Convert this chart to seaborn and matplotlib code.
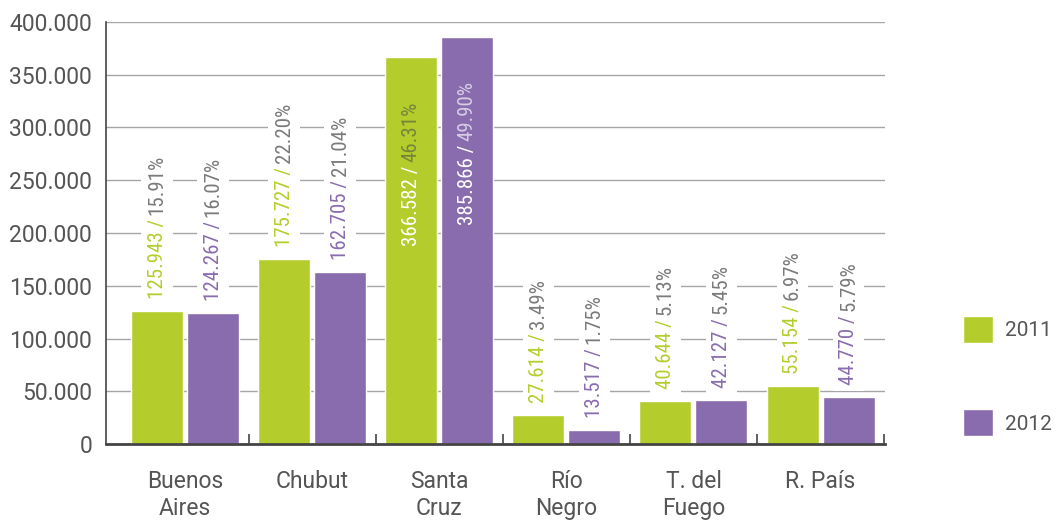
import numpy as np
import pandas as pd
import seaborn as sns
import matplotlib
matplotlib.use("Agg")
import matplotlib.pyplot as plt
from matplotlib.patches import Patch
from matplotlib.transforms import offset_copy
from matplotlib.ticker import FuncFormatter
from matplotlib import font_manager as fm

# ---------------- data ----------------
categories = ["Buenos\nAires", "Chubut", "Santa\nCruz", "Río\nNegro", "T. del\nFuego", "R. País"]
years = ["2011", "2012"]
values_2011 = [125943, 175727, 366582, 27614, 40644, 55154]
values_2012 = [124267, 162705, 385866, 13517, 42127, 44770]
pct_2011 = ["15.91%", "22.20%", "46.31%", "3.49%", "5.13%", "6.97%"]
pct_2012 = ["16.07%", "21.04%", "49.90%", "1.75%", "5.45%", "5.79%"]
y_ticks = [0, 50000, 100000, 150000, 200000, 250000, 300000, 350000, 400000]

GREEN = "#b5cd2c"
PURPLE = "#896cae"
TXT = "#555555"

sns.set_theme(style="white")
plt.rcParams["font.family"] = ["Roboto", "DejaVu Sans"]

# look for a condensed / narrow face for the bar labels
cond_files = []
for f in fm.fontManager.ttflist:
    fn = f.fname.lower()
    if ("condensed" in fn or "narrow" in fn or str(f.stretch) in ("condensed", "semi-condensed", "extra-condensed")) \
            and "bold" not in fn and "italic" not in fn and "oblique" not in fn and "light" not in fn:
        cond_files.append(f.fname)
pref = None
for key in ["robotocondensed-regular", "dejavusanscondensed.ttf", "narrow", "condensed"]:
    for fn in cond_files:
        if key in fn.lower().replace(" ", ""):
            pref = fn
            break
    if pref:
        break


def fcond(size):
    if pref:
        return fm.FontProperties(fname=pref, size=size)
    return fm.FontProperties(family="DejaVu Sans", size=size * 0.85)


def fplain(size):
    return fm.FontProperties(family=["Roboto", "DejaVu Sans"], weight="normal", size=size)


TICK_SIZE = 16.5
LAB_SIZE = 15

df = pd.DataFrame({
    "Provincia": categories * 2,
    "Año": [years[0]] * len(categories) + [years[1]] * len(categories),
    "Valor": values_2011 + values_2012,
})

W, H = 1056, 521
fig = plt.figure(figsize=(W / 100, H / 100), dpi=100)
ax = fig.add_axes([106 / W, 77 / H, 779 / W, 422 / H])

sns.barplot(data=df, x="Provincia", y="Valor", hue="Año", palette=[GREEN, PURPLE],
            width=0.881, gap=0.0714, dodge=True, saturation=1, legend=False, ax=ax,
            errorbar=None)

ax.set_xlim(-0.622, 5.507)
ax.set_ylim(0, 400000)
ax.set_yticks(y_ticks)
ax.yaxis.set_major_formatter(FuncFormatter(lambda v, p: f"{int(v):,}".replace(",", ".")))
ax.set_xlabel("")
ax.set_ylabel("")

ax.yaxis.grid(True, color="#a6a6a6", linewidth=1)
ax.set_axisbelow(True)
sns.despine(ax=ax)
ax.spines["left"].set_color("#444444")
ax.spines["left"].set_linewidth(1.2)
ax.spines["bottom"].set_color("#444444")
ax.spines["bottom"].set_linewidth(2)

ax.tick_params(axis="y", length=0, pad=10, labelcolor=TXT)
ax.tick_params(axis="x", which="major", length=0, pad=19, labelcolor=TXT)
ax.set_xticks(np.arange(0.5, len(categories), 1), minor=True)
ax.tick_params(axis="x", which="minor", bottom=True, direction="in", length=7, width=1.2, color="#444444")
for lab in ax.get_yticklabels():
    lab.set_fontproperties(fplain(TICK_SIZE))
for lab in ax.get_xticklabels():
    lab.set_fontproperties(fplain(TICK_SIZE))
    lab.set_linespacing(1.2)

fig.canvas.draw()
renderer = fig.canvas.get_renderer()

bb = dict(boxstyle="square,pad=0.3", fc="white", ec="none")
series = [(values_2011, pct_2011, GREEN, "#76843a"), (values_2012, pct_2012, PURPLE, "#d6cde6")]
for cont, (vals, pcts, col, pct_in) in zip(ax.containers, series):
    for bar, v, pct in zip(cont, vals, pcts):
        x = bar.get_x() + bar.get_width() / 2
        top = bar.get_height()
        vs = f"{v:,}".replace(",", ".") + " /"
        kw = dict(rotation=90, rotation_mode="anchor", va="center", zorder=4,
                  fontproperties=fcond(LAB_SIZE))
        if v > 300000:
            t2 = ax.text(x, top, pct, ha="right", color=pct_in,
                         transform=offset_copy(ax.transData, fig, x=0, y=-44, units="dots"), **kw)
            L = t2.get_window_extent(renderer).height
            ax.text(x, top, vs, ha="right", color="white",
                    transform=offset_copy(ax.transData, fig, x=0, y=-44 - L - 4, units="dots"), **kw)
        else:
            t1 = ax.text(x, top, vs, ha="left", color=col, bbox=bb,
                         transform=offset_copy(ax.transData, fig, x=0, y=12, units="dots"), **kw)
            L = t1.get_window_extent(renderer).height
            ax.text(x, top, pct, ha="left", color="#7a7a7a", bbox=bb,
                    transform=offset_copy(ax.transData, fig, x=0, y=12 + L + 4, units="dots"), **kw)

handles = [Patch(facecolor=GREEN, label=years[0]), Patch(facecolor=PURPLE, label=years[1])]
fig.legend(handles=handles, loc="upper left", bbox_to_anchor=(963 / W, (H - 316) / H),
           frameon=False, prop=fplain(15), handlelength=1.44, handleheight=1.6,
           handletextpad=0.6, labelspacing=3.2, borderpad=0, borderaxespad=0,
           labelcolor=TXT)

fig.savefig("out.png", dpi=100)
